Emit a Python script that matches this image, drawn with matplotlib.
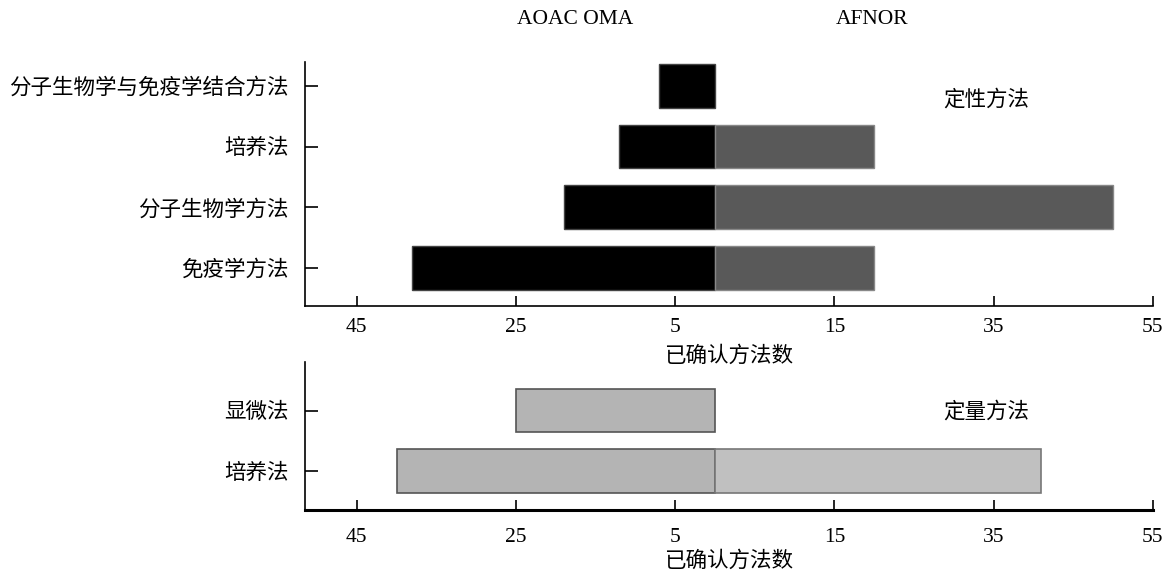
import numpy as np
import matplotlib
matplotlib.use("Agg")
from matplotlib import pyplot as plt

plt.rcParams['font.family'] = ['Liberation Serif', 'Noto Sans CJK SC']

# qualitative methods (bottom to top)
qual_labels = ['免疫学方法', '分子生物学方法', '培养法', '分子生物学与免疫学结合方法']
qual_aoac = [38, 19, 12, 7]
qual_afnor = [20, 50, 20, 0]

# quantitative methods (bottom to top)
quant_labels = ['培养法', '显微法']
quant_aoac = [40, 25]
quant_afnor = [41, 0]

tick_values = [-45, -25, -5, 15, 35, 55]
tick_labels = ['45', '25', '5', '15', '35', '55']


def draw_panel(ax, labels, left, right, left_style, right_style, note, note_y, xpad, lpad):
    y = np.arange(len(labels))
    left = np.array(left)
    right = np.array(right)
    m = left > 0
    ax.barh(y[m], -left[m], height=0.72, **left_style)
    m = right > 0
    ax.barh(y[m], right[m], height=0.72, **right_style)
    ax.set_yticks(y)
    ax.set_yticklabels(labels, fontsize=15.5)
    ax.set_xticks(tick_values)
    ax.set_xticklabels(tick_labels, fontsize=15.5)
    ax.set_xlim(-51.5, 55)
    ax.set_xlabel('已确认方法数', fontsize=15.5, labelpad=lpad)
    ax.tick_params(axis='y', direction='in', length=9, width=1.2, pad=12)
    ax.tick_params(axis='x', direction='in', length=7, width=1.2, pad=xpad)
    ax.spines['top'].set_visible(False)
    ax.spines['right'].set_visible(False)
    ax.patch.set_visible(False)
    ax.text(0.804, note_y, note, transform=ax.transAxes, fontsize=15.5,
            ha='center', va='center')


fig = plt.figure(figsize=(11.72, 5.76), dpi=100)
ax1 = fig.add_axes([0.2602, 0.4688, 0.7235, 0.4236])
ax2 = fig.add_axes([0.2602, 0.1146, 0.7235, 0.2569])
ax1.set_zorder(2)

draw_panel(ax1, qual_labels, qual_aoac, qual_afnor,
           dict(color='#000000', edgecolor='#444444', linewidth=1),
           dict(color='#595959', edgecolor='#888888', linewidth=1),
           '定性方法', 0.845, 8.5, 7)
ax1.set_ylim(-0.62, 3.39)
for s in ax1.spines.values():
    s.set_linewidth(1.2)

draw_panel(ax2, quant_labels, quant_aoac, quant_afnor,
           dict(color='#b4b4b4', edgecolor='#555555', linewidth=1.2),
           dict(color='#c0c0c0', edgecolor='#777777', linewidth=1.2),
           '定量方法', 0.66, 13, 3)
ax2.set_ylim(-0.64, 1.8)
ax2.spines['bottom'].set_linewidth(2.2)
ax2.spines['left'].set_linewidth(1.2)

fig.text(575 / 1172, 1 - 20 / 576, 'AOAC OMA', fontsize=15.5, ha='center', va='center')
fig.text(872 / 1172, 1 - 20 / 576, 'AFNOR', fontsize=15.5, ha='center', va='center')

fig.savefig('out.png', dpi=100)
